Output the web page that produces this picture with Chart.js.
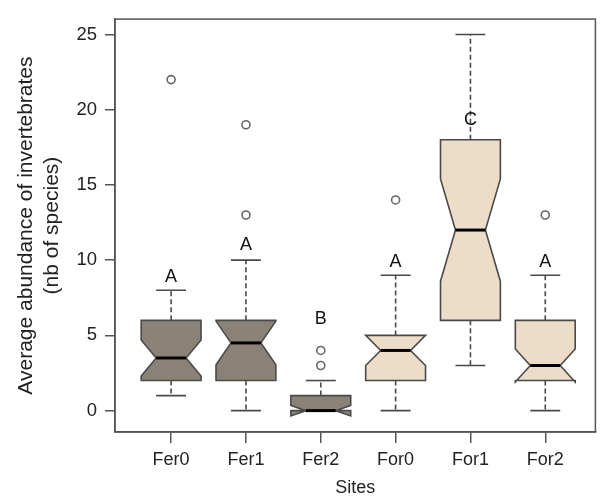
<!DOCTYPE html>
<html>
<head>
<meta charset="utf-8">
<script src="https://cdn.jsdelivr.net/npm/chart.js@4.4.1/dist/chart.umd.min.js"></script>
<style>
  html, body { margin: 0; padding: 0; background: #fff; }
</style>
</head>
<body>
<canvas id="chart" width="601" height="500"></canvas>
<script>
'use strict';

// sites along the x axis
let sites = ['Fer0', 'Fer1', 'Fer2', 'For0', 'For1', 'For2'];

// box stats
let whiskerLow = [1, 0, 0, 0, 3, 0];
let lowerQuartile = [2, 2, 0, 2, 6, 2];
let medians = [3.5, 4.5, 0, 4, 12, 3];
let upperQuartile = [6, 6, 1, 5, 18, 6];
let whiskerHigh = [8, 10, 2, 9, 25, 9];
let notchLow = [2.3, 3.05, -0.35, 3, 8.6, 1.9];
let notchHigh = [4.7, 5.95, 0.35, 5, 15.4, 4.1];
let outliers = [[22], [19, 13], [4, 3], [14], [], [13]];

// significance letters + height they sit at
let groupLetters = ['A', 'A', 'B', 'A', 'C', 'A'];
let letterHeights = [8.9, 11, 6.1, 9.9, 19.3, 9.9];

let yTicks = [0, 5, 10, 15, 20, 25];

// styles
let darkFill = '#8a8276';
let lightFill = '#ecdcc8';
let boxFills = [darkFill, darkFill, darkFill, lightFill, lightFill, lightFill];
let lineGray = '#4a4a4a';

Chart.defaults.font.family = '"Liberation Sans", Arial, sans-serif';
Chart.defaults.color = '#222';

let outlierPoints = [];
for (let i = 0; i < sites.length; i++) {
  for (let j = 0; j < outliers[i].length; j++) {
    outlierPoints.push({ x: i + 1, y: outliers[i][j] });
  }
}

// draws notched boxes + whiskers under the outlier points
let boxPlotPlugin = {
  id: 'boxPlot',
  beforeDatasetsDraw(chart) {
    let ctx = chart.ctx;
    let xs = chart.scales.x;
    let ys = chart.scales.y;
    let halfW = 0.4;

    for (let i = 0; i < sites.length; i++) {
      let pos = i + 1;
      let xl = xs.getPixelForValue(pos - halfW);
      let xr = xs.getPixelForValue(pos + halfW);
      let xc = xs.getPixelForValue(pos);
      let xil = xs.getPixelForValue(pos - halfW / 2);
      let xir = xs.getPixelForValue(pos + halfW / 2);

      let yLo = ys.getPixelForValue(whiskerLow[i]);
      let yQ1 = ys.getPixelForValue(lowerQuartile[i]);
      let yMed = ys.getPixelForValue(medians[i]);
      let yQ3 = ys.getPixelForValue(upperQuartile[i]);
      let yHi = ys.getPixelForValue(whiskerHigh[i]);
      let yNl = ys.getPixelForValue(notchLow[i]);
      let yNh = ys.getPixelForValue(notchHigh[i]);

      ctx.save();
      ctx.strokeStyle = lineGray;
      ctx.lineWidth = 1.6;

      // dashed whiskers
      ctx.setLineDash([5, 3]);
      ctx.beginPath();
      if (whiskerHigh[i] > upperQuartile[i]) {
        ctx.moveTo(xc, yQ3);
        ctx.lineTo(xc, yHi);
      }
      if (whiskerLow[i] < lowerQuartile[i]) {
        ctx.moveTo(xc, yQ1);
        ctx.lineTo(xc, yLo);
      }
      ctx.stroke();

      // whisker caps
      ctx.setLineDash([]);
      ctx.beginPath();
      if (whiskerHigh[i] > upperQuartile[i]) {
        ctx.moveTo(xil, yHi);
        ctx.lineTo(xir, yHi);
      }
      if (whiskerLow[i] < lowerQuartile[i]) {
        ctx.moveTo(xil, yLo);
        ctx.lineTo(xir, yLo);
      }
      ctx.stroke();

      // notched box
      ctx.beginPath();
      ctx.moveTo(xl, yQ1);
      ctx.lineTo(xl, yNl);
      ctx.lineTo(xil, yMed);
      ctx.lineTo(xl, yNh);
      ctx.lineTo(xl, yQ3);
      ctx.lineTo(xr, yQ3);
      ctx.lineTo(xr, yNh);
      ctx.lineTo(xir, yMed);
      ctx.lineTo(xr, yNl);
      ctx.lineTo(xr, yQ1);
      ctx.closePath();
      ctx.fillStyle = boxFills[i];
      ctx.fill();
      ctx.stroke();

      // median
      ctx.strokeStyle = '#000';
      ctx.lineWidth = 3;
      ctx.beginPath();
      ctx.moveTo(xil, yMed);
      ctx.lineTo(xir, yMed);
      ctx.stroke();
      ctx.restore();
    }
  },
  afterDatasetsDraw(chart) {
    let ctx = chart.ctx;
    let xs = chart.scales.x;
    let ys = chart.scales.y;
    ctx.save();
    ctx.font = '18px "Liberation Sans", Arial, sans-serif';
    ctx.fillStyle = '#111';
    ctx.textAlign = 'center';
    ctx.textBaseline = 'middle';
    for (let i = 0; i < sites.length; i++) {
      ctx.fillText(groupLetters[i], xs.getPixelForValue(i + 1), ys.getPixelForValue(letterHeights[i]));
    }
    ctx.restore();
  },
  afterDraw(chart) {
    // frame round the plot
    let a = chart.chartArea;
    let ctx = chart.ctx;
    ctx.save();
    ctx.strokeStyle = '#555';
    ctx.lineWidth = 1.5;
    ctx.strokeRect(a.left, a.top, a.right - a.left, a.bottom - a.top);
    ctx.restore();
  }
};

let ctx = document.getElementById('chart').getContext('2d');

let chartObject = {
  type: 'scatter',
  data: {
    datasets: [{
      label: 'outliers',
      data: outlierPoints,
      pointRadius: 4,
      pointBorderWidth: 1.6,
      pointBorderColor: '#666',
      pointBackgroundColor: '#fff'
    }]
  },
  options: {
    responsive: false,
    animation: false,
    devicePixelRatio: 1,
    layout: { padding: { top: 7, right: 1, left: 0, bottom: 0 } },
    plugins: {
      legend: { display: false },
      tooltip: { enabled: false }
    },
    scales: {
      x: {
        type: 'linear',
        min: 0.25,
        max: 6.67,
        afterBuildTicks: s => { s.ticks = sites.map((n, i) => ({ value: i + 1 })); },
        afterFit: s => { s.height = 68; },
        ticks: {
          callback: v => sites[v - 1],
          font: { size: 18 },
          padding: 6,
          autoSkip: false,
          maxRotation: 0
        },
        grid: { drawOnChartArea: false, tickLength: 11, color: '#555', lineWidth: 1.5 },
        border: { display: true, color: '#555', width: 1.5 },
        title: { display: true, text: 'Sites', font: { size: 18 }, padding: { top: 0, bottom: 1 } }
      },
      y: {
        min: -1.42,
        max: 26.02,
        afterBuildTicks: s => { s.ticks = yTicks.map(v => ({ value: v })); },
        afterFit: s => { s.width = 115; },
        ticks: { font: { size: 18.5 }, padding: 8 },
        grid: { drawOnChartArea: false, tickLength: 10, color: '#555', lineWidth: 1.5 },
        border: { display: true, color: '#555', width: 1.5 },
        title: {
          display: true,
          text: ['Average abundance of invertebrates', '(nb of species)'],
          font: { size: 21, lineHeight: 1.24 },
          padding: { top: 13, bottom: 0 }
        }
      }
    }
  },
  plugins: [boxPlotPlugin]
};

const myChart = new Chart(ctx, chartObject);
</script>
</body>
</html>
